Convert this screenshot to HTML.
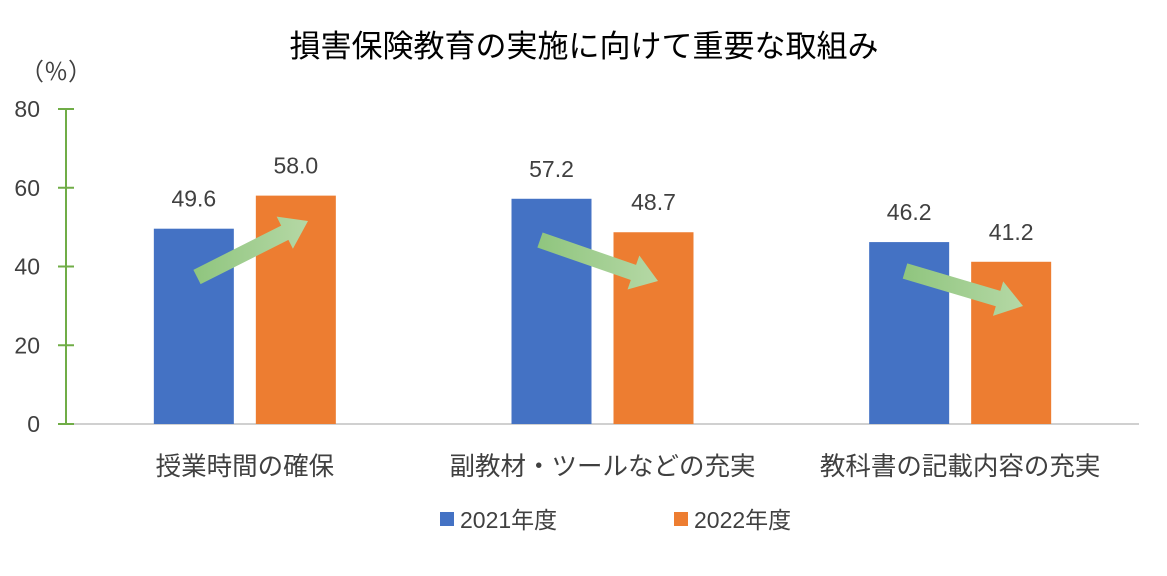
<!DOCTYPE html>
<html><head><meta charset="utf-8"><style>
body{margin:0;background:#fff;}
svg{display:block;font-family:"Liberation Sans","Noto Sans CJK JP",sans-serif;}
</style></head><body>
<svg id="c" width="1167" height="576">
<defs><linearGradient id="ag" x1="0" y1="0" x2="1" y2="0"><stop offset="0" stop-color="#8fc57e"/><stop offset="1" stop-color="#b5d8a5"/></linearGradient></defs>
<text x="584" y="57" text-anchor="middle" font-size="31" fill="#000">損害保険教育の実施に向けて重要な取組み</text>
<text x="20" y="80" font-size="24" fill="#404040">（％）</text>
</svg>
<script>
const categories=["授業時間の確保","副教材・ツールなどの充実","教科書の記載内容の充実"];
const series2021=[49.6,57.2,46.2];
const series2022=[58.0,48.7,41.2];
const ticks=[0,20,40,60,80];
const seriesNames=["2021年度","2022年度"];
const svg=document.getElementById('c');
const NS="http://www.w3.org/2000/svg";
function mk(t,a,txt){const e=document.createElementNS(NS,t);for(const k in a)e.setAttribute(k,a[k]);if(txt!==undefined)e.textContent=txt;svg.appendChild(e);return e;}
const y=v=>424-v*315/80;
const x0=66,x1=1139,cw=(x1-x0)/categories.length;
const cx=i=>x0+cw*(i+0.5);
let e=mk('line',{x1:x0,x2:x1,y1:424,y2:424,stroke:'#d0d0d0','stroke-width':2});


e=mk('line',{x1:x0,x2:x0,y1:y(80),y2:424,stroke:'#70ad47','stroke-width':2});


ticks.forEach(t=>{
 let l=mk('line',{x1:58,x2:74,y1:y(t),y2:y(t),stroke:'#70ad47','stroke-width':2});
 
 
 let s=mk('text',{x:40,y:y(t)+8,'text-anchor':'end','font-size':23,fill:'#404040'},t);
 
 
});
const bw=80,cols=['#4472c4','#ed7d31'];
categories.forEach((c,i)=>{
 [series2021[i],series2022[i]].forEach((v,j)=>{
  const bx=cx(i)-91+j*102;
  let r=mk('rect',{x:bx,y:y(v),width:bw,height:424-y(v),fill:cols[j]});
  
  
  let t=mk('text',{x:bx+bw/2,y:y(v)-22,'text-anchor':'middle','font-size':23,fill:'#404040'},v.toFixed(1));
  
  
 });
 let l=mk('text',{x:cx(i),y:475,'text-anchor':'middle','font-size':25.5,fill:'#404040'},c);
 
 
});
function arrow(ax,ay,bx,by){
 const dx=bx-ax,dy=by-ay,L=Math.hypot(dx,dy),ux=dx/L,uy=dy/L,px=-uy,py=ux;
 const hl=26,sw=8,hw=18,hx=bx-ux*hl,hy=by-uy*hl;
 const pts=[[ax+px*sw,ay+py*sw],[hx+px*sw,hy+py*sw],[hx+px*hw,hy+py*hw],[bx,by],[hx-px*hw,hy-py*hw],[hx-px*sw,hy-py*sw],[ax-px*sw,ay-py*sw]];
 let p=mk('polygon',{points:pts.map(q=>q.join(',')).join(' '),fill:'url(#ag)'});
 
 
}
arrow(197,277,308,221);arrow(540,240,658,281);arrow(905,271,1023,306);
seriesNames.forEach((n,j)=>{
 const lx=[440,674][j];
 let r=mk('rect',{x:lx,y:512,width:14,height:14,fill:cols[j]});
 
 
 let t=mk('text',{x:lx+20,y:528,'font-size':23,fill:'#404040'},n);
 
 
});
</script>
</body></html>
